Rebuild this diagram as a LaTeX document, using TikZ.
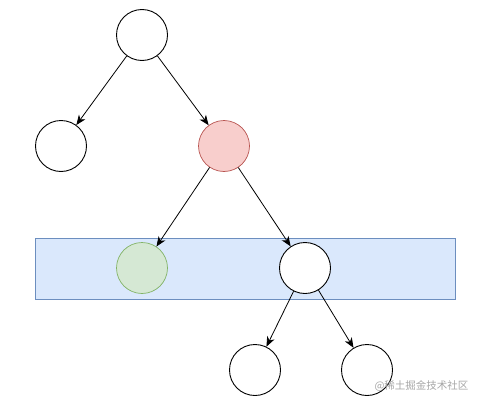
\documentclass[tikz,border=0pt]{standalone}
\usepackage{fontspec}
\newfontfamily\cjk{Noto Sans CJK SC}
\usetikzlibrary{positioning, arrows.meta}
\definecolor{redfill}{HTML}{F8CECC}
\definecolor{redline}{HTML}{B85450}
\definecolor{greenfill}{HTML}{D5E8D4}
\definecolor{greenline}{HTML}{82B366}
\definecolor{bluefill}{HTML}{DAE8FC}
\definecolor{blueline}{HTML}{6C8EBF}

\begin{document}
\begin{tikzpicture}[
    x=1pt, y=-1pt,
    treenode/.style={
        circle,
        draw=black,
        fill=white,
        line width=0.9pt,
        minimum size=51pt,
        inner sep=0pt
    },
    rednode/.style={treenode, draw=redline, fill=redfill, line width=0.7pt},
    greennode/.style={treenode, draw=greenline, fill=greenfill, line width=0.7pt},
    treearrow/.style={-{Stealth[length=10pt, width=8pt, inset=3pt]}, line width=0.8pt, draw=black}
]
\useasboundingbox (0,0) rectangle (481,404);

% highlighted level
\node[draw=blueline, fill=bluefill, line width=0.7pt, minimum width=420pt, minimum height=61pt,
      inner sep=0pt] (level) at (245,268.5) {};

\node[treenode] (root) at (142,35) {};
\node[treenode] (left) at (61,146) {};
\node[rednode] (mid) at (224,146) {};
\node[greennode] (found) at (142,268) {};
\node[treenode] (right) at (305,268) {};
\node[treenode] (leafa) at (255,370) {};
\node[treenode] (leafb) at (367,370) {};

\draw[treearrow] (root) -- (left);
\draw[treearrow] (root) -- (mid);
\draw[treearrow] (mid) -- (found);
\draw[treearrow] (mid) -- (right);
\draw[treearrow] (right) -- (leafa);
\draw[treearrow] (right) -- (leafb);

% watermark
\node[text=black!35, font=\cjk\fontsize{10.5}{12}\selectfont, anchor=east] (mark) at (472,386) {@稀土掘金技术社区};

\end{tikzpicture}
\end{document}
